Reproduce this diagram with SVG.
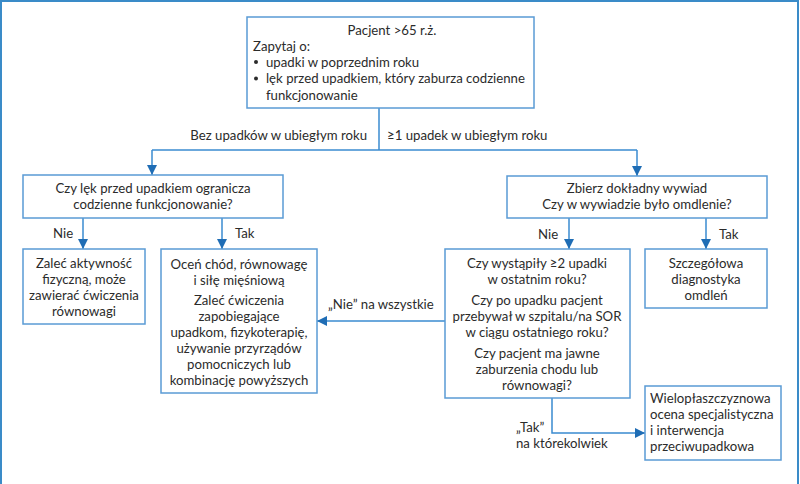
<svg xmlns="http://www.w3.org/2000/svg" width="800" height="484" viewBox="0 0 800 484">
<defs>
<marker id="ah" viewBox="0 0 10 10" refX="10" refY="5" markerWidth="10" markerHeight="10" markerUnits="userSpaceOnUse" orient="auto">
<path d="M0,0 L10,5 L0,10 Z" fill="#1f6db5"/>
</marker>
</defs>
<style>
.box{fill:#fff;stroke:#5a9bd5;stroke-width:1.5}
.ln{fill:none;stroke:#3a8bd0;stroke-width:1.5}
text{font-family:"Lato","Open Sans",sans-serif;font-size:13.2px;fill:#2b2b2b}
.c{text-anchor:middle}
</style>
<rect x="1" y="1" width="797" height="500" fill="#fff" stroke="#3a8bc8" stroke-width="2"/>

<g id="connectors">
<path class="ln" d="M379,108 V150"/>
<path class="ln" d="M152,150 H637"/>
<path class="ln" d="M152,150 V175" marker-end="url(#ah)"/>
<path class="ln" d="M637,150 V176" marker-end="url(#ah)"/>
<path class="ln" d="M83,218 V249" marker-end="url(#ah)"/>
<path class="ln" d="M222,218 V249" marker-end="url(#ah)"/>
<path class="ln" d="M569,218 V249" marker-end="url(#ah)"/>
<path class="ln" d="M706,218 V249" marker-end="url(#ah)"/>
<path class="ln" d="M445,321 H317" marker-end="url(#ah)"/>
<path class="ln" d="M552,398 V433 H645" marker-end="url(#ah)"/>
<text x="367" y="140" text-anchor="end">Bez upadków w ubiegłym roku</text>
<text x="387" y="140">≥1 upadek w ubiegłym roku</text>
<text x="53" y="238">Nie</text>
<text x="235" y="238">Tak</text>
<text x="538" y="239">Nie</text>
<text x="719" y="239">Tak</text>
<text x="328" y="309">„Nie” na wszystkie</text>
<text x="516" y="432">„Tak”</text>
<text x="516" y="448">na którekolwiek</text>
</g>

<g id="start">
<rect class="box" x="247" y="17" width="287" height="91"/>
<text class="c" x="392" y="35">Pacjent &gt;65 r.ż.</text>
<text x="253" y="51">Zapytaj o:</text>
<circle cx="256" cy="62" r="2" fill="#2b2b2b"/>
<text x="266" y="66.5">upadki w poprzednim roku</text>
<circle cx="256" cy="78.5" r="2" fill="#2b2b2b"/>
<text x="266" y="83">lęk przed upadkiem, który zaburza codzienne</text>
<text x="266" y="99.5">funkcjonowanie</text>
</g>

<g id="fear">
<rect class="box" x="23" y="175" width="260" height="43"/>
<text class="c" x="153" y="193">Czy lęk przed upadkiem ogranicza</text>
<text class="c" x="153" y="209">codzienne funkcjonowanie?</text>
</g>

<g id="activity">
<rect class="box" x="23" y="249" width="122" height="75"/>
<text class="c" x="84" y="268">Zaleć aktywność</text>
<text class="c" x="84" y="284">fizyczną, może</text>
<text class="c" x="84" y="300">zawierać ćwiczenia</text>
<text class="c" x="84" y="316">równowagi</text>
</g>

<g id="assess">
<rect class="box" x="161" y="249" width="156" height="144"/>
<text class="c" x="239" y="269">Oceń chód, równowagę</text>
<text class="c" x="239" y="285">i siłę mięśniową</text>
<text class="c" x="239" y="305">Zaleć ćwiczenia</text>
<text class="c" x="239" y="321">zapobiegające</text>
<text class="c" x="239" y="337">upadkom, fizykoterapię,</text>
<text class="c" x="239" y="353">używanie przyrządów</text>
<text class="c" x="239" y="369">pomocniczych lub</text>
<text class="c" x="239" y="385">kombinację powyższych</text>
</g>

<g id="history">
<rect class="box" x="507" y="176" width="260" height="42"/>
<text class="c" x="637" y="193">Zbierz dokładny wywiad</text>
<text class="c" x="637" y="209">Czy w wywiadzie było omdlenie?</text>
</g>

<g id="questions">
<rect class="box" x="445" y="249" width="185" height="149"/>
<text class="c" x="537" y="268">Czy wystąpiły ≥2 upadki</text>
<text class="c" x="537" y="284">w ostatnim roku?</text>
<text class="c" x="537" y="305">Czy po upadku pacjent</text>
<text class="c" x="537" y="321">przebywał w szpitalu/na SOR</text>
<text class="c" x="537" y="337">w ciągu ostatniego roku?</text>
<text class="c" x="537" y="358">Czy pacjent ma jawne</text>
<text class="c" x="537" y="374">zaburzenia chodu lub</text>
<text class="c" x="537" y="390">równowagi?</text>
</g>

<g id="syncope">
<rect class="box" x="645" y="249" width="122" height="59"/>
<text class="c" x="706" y="268">Szczegółowa</text>
<text class="c" x="706" y="284">diagnostyka</text>
<text class="c" x="706" y="300">omdleń</text>
</g>

<g id="multi">
<rect class="box" x="645" y="386" width="136" height="74"/>
<text x="650" y="403">Wielopłaszczyznowa</text>
<text x="650" y="419">ocena specjalistyczna</text>
<text x="650" y="435">i interwencja</text>
<text x="650" y="451">przeciwupadkowa</text>
</g>
</svg>
